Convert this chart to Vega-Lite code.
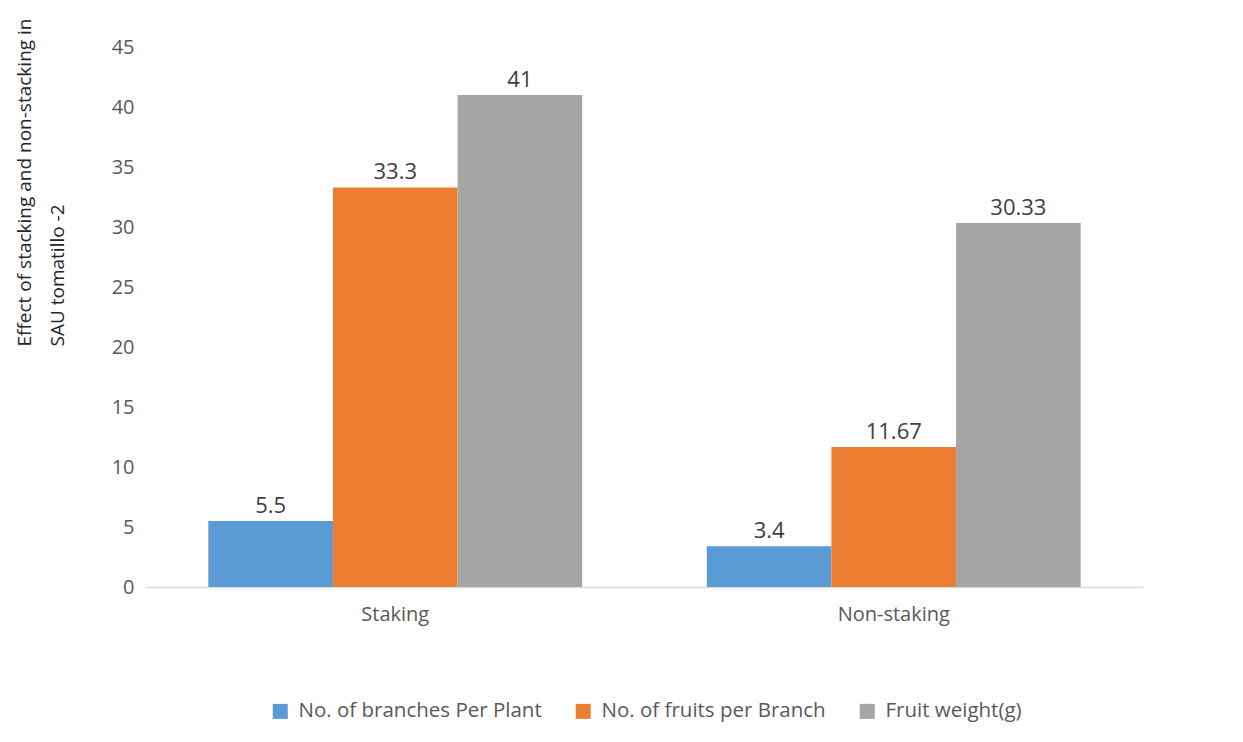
{
  "$schema": "https://vega.github.io/schema/vega-lite/v6.json",
  "autosize": "none",
  "width": 997,
  "height": 540,
  "padding": {"left": 146, "top": 47, "right": 100, "bottom": 155},
  "background": "white",
  "config": {
    "font": "Open Sans",
    "view": {"stroke": null},
    "axis": {"labelFont": "Open Sans", "titleFont": "Open Sans"}
  },
  "data": {
    "values": [
      {"treatment": "Staking", "trait": "No. of branches Per Plant", "value": 5.5},
      {"treatment": "Staking", "trait": "No. of fruits per Branch", "value": 33.3},
      {"treatment": "Staking", "trait": "Fruit weight(g)", "value": 41},
      {"treatment": "Non-staking", "trait": "No. of branches Per Plant", "value": 3.4},
      {"treatment": "Non-staking", "trait": "No. of fruits per Branch", "value": 11.67},
      {"treatment": "Non-staking", "trait": "Fruit weight(g)", "value": 30.33}
    ]
  },
  "encoding": {
    "x": {
      "field": "treatment",
      "type": "nominal",
      "sort": ["Staking", "Non-staking"],
      "scale": {"paddingInner": 0.25, "paddingOuter": 0.125},
      "axis": {
        "title": null,
        "labelAngle": 0,
        "labelFontSize": 20,
        "labelColor": "#595959",
        "labelPadding": 17,
        "ticks": false,
        "domainColor": "#d9d9d9",
        "domainWidth": 1.5
      }
    },
    "xOffset": {
      "field": "trait",
      "type": "nominal",
      "sort": ["No. of branches Per Plant", "No. of fruits per Branch", "Fruit weight(g)"]
    },
    "y": {
      "field": "value",
      "type": "quantitative",
      "scale": {"domain": [0, 45]},
      "axis": {
        "values": [0, 5, 10, 15, 20, 25, 30, 35, 40, 45],
        "grid": false,
        "domain": false,
        "ticks": false,
        "labelFontSize": 20,
        "labelColor": "#595959",
        "labelPadding": 12,
        "title": ["Effect of stacking and non-stacking in", "SAU tomatillo -2"],
        "titleFontSize": 19,
        "titleFontWeight": "normal",
        "titleColor": "#262626",
        "titleAngle": -90,
        "titleAlign": "left",
        "titleBaseline": "middle",
        "titleLineHeight": 33,
        "titleX": -122,
        "titleY": 299
      }
    }
  },
  "layer": [
    {
      "mark": {"type": "bar"},
      "encoding": {
        "color": {
          "field": "trait",
          "type": "nominal",
          "sort": ["No. of branches Per Plant", "No. of fruits per Branch", "Fruit weight(g)"],
          "scale": {"range": ["#5b9bd5", "#ed7d31", "#a5a5a5"]},
          "legend": {
            "title": null,
            "orient": "none",
            "direction": "horizontal",
            "legendX": 124,
            "legendY": 654,
            "symbolType": "square",
            "symbolSize": 225,
            "symbolStrokeWidth": 0,
            "labelFontSize": 20.5,
            "labelColor": "#595959",
            "labelLimit": 0,
            "labelOffset": 8,
            "columnPadding": 31
          }
        }
      }
    },
    {
      "mark": {"type": "text", "baseline": "alphabetic", "dy": -8, "fontSize": 22, "color": "#404040"},
      "encoding": {
        "text": {"field": "value", "type": "quantitative", "format": ".4~g"}
      }
    }
  ]
}
